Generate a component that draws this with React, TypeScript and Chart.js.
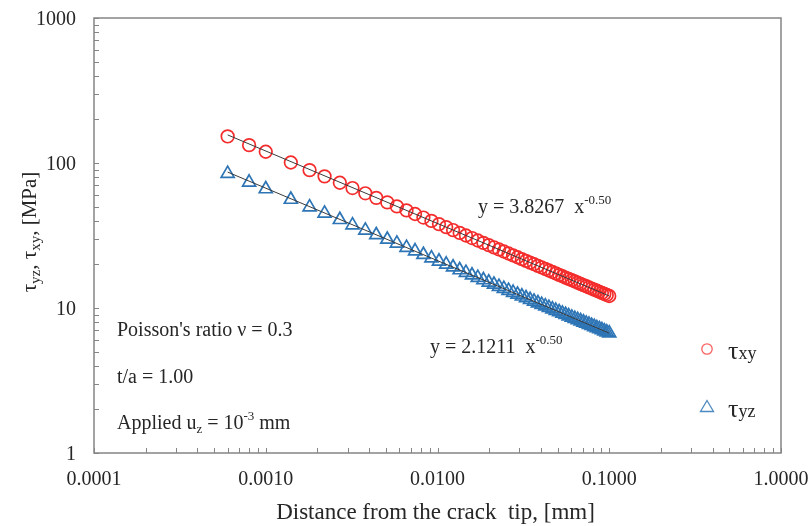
import { useEffect, useRef } from 'react';
import { Chart, registerables } from 'chart.js';

Chart.register(...registerables);

// ---- data ----
const DISTANCE = [
  0.0006, 0.0008, 0.001, 0.0014, 0.0018, 0.0022, 0.0027, 0.0032, 0.0038, 0.0044,
  0.0051, 0.0058, 0.0066, 0.0074, 0.00828, 0.00922, 0.0102, 0.01124, 0.01232, 0.01346,
  0.01464, 0.01588, 0.01716, 0.0185, 0.01988, 0.02132, 0.0228, 0.02434, 0.02592, 0.02756,
  0.02924, 0.03098, 0.03276, 0.0346, 0.03648, 0.03842, 0.0404, 0.04244, 0.04452, 0.04666,
  0.04884, 0.05108, 0.05336, 0.0557, 0.05808, 0.06052, 0.063, 0.06554, 0.06812, 0.07076,
  0.07344, 0.07618, 0.07896, 0.0818, 0.08468, 0.08762, 0.0906, 0.09364, 0.09672, 0.1,
];
const TAU_XY = [
  152.5, 132.8, 119.6, 100.8, 89.3, 80.9, 73.1, 67.2, 61.8, 57.5,
  53.5, 50.2, 47.1, 44.5, 42.05, 39.86, 37.89, 36.1, 34.47, 32.99,
  31.63, 30.37, 29.21, 28.14, 27.14, 26.21, 25.34, 24.53, 23.77, 23.05,
  22.38, 21.74, 21.14, 20.57, 20.04, 19.52, 19.04, 18.58, 18.14, 17.72,
  17.32, 16.93, 16.57, 16.21, 15.88, 15.56, 15.25, 14.95, 14.66, 14.39,
  14.12, 13.86, 13.62, 13.38, 13.15, 12.93, 12.71, 12.51, 12.3, 12.1,
];
const TAU_YZ = [
  84.5, 73.6, 66.2, 56.0, 49.6, 44.9, 40.6, 37.3, 34.3, 31.9,
  29.7, 27.9, 26.1, 24.7, 23.31, 22.09, 21.0, 20.01, 19.11, 18.29,
  17.53, 16.83, 16.19, 15.6, 15.04, 14.53, 14.05, 13.6, 13.17, 12.78,
  12.4, 12.05, 11.72, 11.4, 11.11, 10.82, 10.55, 10.3, 10.05, 9.82,
  9.6, 9.39, 9.18, 8.99, 8.8, 8.62, 8.45, 8.29, 8.13, 7.97,
  7.83, 7.69, 7.55, 7.42, 7.29, 7.17, 7.05, 6.93, 6.82, 6.71,
];
const FIT_XY_COEF = 3.8267;
const FIT_YZ_COEF = 2.1211;
const FIT_EXP = -0.5;
const X_TICKS = [0.0001, 0.001, 0.01, 0.1, 1];
const X_TICK_LABELS = ['0.0001', '0.0010', '0.0100', '0.1000', '1.0000'];
const Y_TICKS = [1, 10, 100, 1000];
const Y_TICK_LABELS = ['1', '10', '100', '1000'];

// ---- styles ----
const FONT = '"Liberation Serif", "Times New Roman", serif';
const TEXT = '#262626';
const RED = '#f42c2c';
const BLUE = '#2e75b6';
const FRAME = '#858585';

type Part = { t: string; size: number; dy?: number };

function rich(ctx: CanvasRenderingContext2D, x: number, y: number, parts: Part[], align: 'left' | 'center' | 'right' = 'left') {
  let total = 0;
  for (const p of parts) {
    ctx.font = `${p.size}px ${FONT}`;
    total += ctx.measureText(p.t).width;
  }
  let cx = align === 'center' ? x - total / 2 : align === 'right' ? x - total : x;
  ctx.textAlign = 'left';
  ctx.textBaseline = 'alphabetic';
  for (const p of parts) {
    ctx.font = `${p.size}px ${FONT}`;
    ctx.fillText(p.t, cx, y + (p.dy || 0));
    cx += ctx.measureText(p.t).width;
  }
}

const decorPlugin = {
  id: 'decor',
  beforeDatasetsDraw(chart: any) {
    const { ctx, chartArea: a, scales } = chart;
    const xs = scales.x;
    const ys = scales.y;
    ctx.save();
    ctx.strokeStyle = FRAME;
    ctx.lineWidth = 1.5;
    ctx.strokeRect(a.left, a.top, a.right - a.left, a.bottom - a.top);
    ctx.lineWidth = 1;
    ctx.beginPath();
    for (let d = 0; d < X_TICKS.length; d++) {
      for (let k = 1; k <= 9; k++) {
        const v = X_TICKS[d] * k;
        if (v > X_TICKS[X_TICKS.length - 1] * 1.0001) break;
        const px = Math.round(xs.getPixelForValue(v)) + 0.5;
        ctx.moveTo(px, a.bottom);
        ctx.lineTo(px, a.bottom - 5);
      }
    }
    for (let d = 0; d < Y_TICKS.length; d++) {
      for (let k = 1; k <= 9; k++) {
        const v = Y_TICKS[d] * k;
        if (v > Y_TICKS[Y_TICKS.length - 1] * 1.0001) break;
        const py = Math.round(ys.getPixelForValue(v)) + 0.5;
        ctx.moveTo(a.left, py);
        ctx.lineTo(a.left + 5, py);
      }
    }
    ctx.stroke();

    // tick labels
    ctx.fillStyle = TEXT;
    ctx.font = `20px ${FONT}`;
    ctx.textAlign = 'center';
    ctx.textBaseline = 'alphabetic';
    X_TICKS.forEach((v, i) => {
      ctx.fillText(X_TICK_LABELS[i], xs.getPixelForValue(v), a.bottom + 32);
    });
    ctx.textAlign = 'right';
    Y_TICKS.forEach((v, i) => {
      ctx.fillText(Y_TICK_LABELS[i], a.left - 18, ys.getPixelForValue(v) + 7);
    });
    ctx.restore();
  },
  afterDraw(chart: any) {
    const { ctx, chartArea: a } = chart;
    ctx.save();
    ctx.fillStyle = TEXT;

    // x title
    rich(ctx, (a.left + a.right) / 2 - 2, 519, [{ t: 'Distance from the crack  tip, [mm]', size: 23 }], 'center');

    // y title (rotated)
    ctx.save();
    ctx.translate(36, 232);
    ctx.rotate(-Math.PI / 2);
    rich(ctx, 0, 0, [
      { t: 'τ', size: 21 },
      { t: 'yz', size: 15, dy: 4 },
      { t: ', τ', size: 21 },
      { t: 'xy', size: 15, dy: 4 },
      { t: ', [MPa]', size: 21 },
    ], 'center');
    ctx.restore();

    // equations
    rich(ctx, 478, 212.5, [
      { t: 'y = 3.8267  x', size: 20 },
      { t: '-0.50', size: 13, dy: -9 },
    ]);
    rich(ctx, 430, 353, [
      { t: 'y = 2.1211  x', size: 20 },
      { t: '-0.50', size: 13, dy: -9 },
    ]);

    // notes
    rich(ctx, 117, 336, [{ t: "Poisson's ratio ν = 0.3", size: 20 }]);
    rich(ctx, 117, 382.5, [{ t: 't/a = 1.00', size: 20 }]);
    rich(ctx, 117, 429, [
      { t: 'Applied u', size: 20 },
      { t: 'z', size: 13, dy: 4 },
      { t: ' = 10', size: 20 },
      { t: '-3', size: 13, dy: -9 },
      { t: ' mm', size: 20 },
    ]);

    // legend
    ctx.lineWidth = 1.3;
    ctx.strokeStyle = 'rgba(244,44,44,0.75)';
    ctx.beginPath();
    ctx.arc(707, 349, 5.2, 0, Math.PI * 2);
    ctx.stroke();
    ctx.strokeStyle = 'rgba(46,117,182,0.85)';
    ctx.beginPath();
    ctx.moveTo(707, 400.5);
    ctx.lineTo(713.5, 411.5);
    ctx.lineTo(700.5, 411.5);
    ctx.closePath();
    ctx.stroke();
    ctx.fillStyle = TEXT;
    rich(ctx, 728, 359, [{ t: 'τ', size: 26 }, { t: 'xy', size: 18 }]);
    rich(ctx, 728, 417, [{ t: 'τ', size: 26 }, { t: 'yz', size: 18 }]);
    ctx.restore();
  },
};

export default function App() {
  const ref = useRef<HTMLCanvasElement | null>(null);

  useEffect(() => {
    if (!ref.current) return;
    const fitLine = (coef: number) => {
      const x0 = DISTANCE[0];
      const x1 = DISTANCE[DISTANCE.length - 1];
      return [
        { x: x0, y: coef * Math.pow(x0, FIT_EXP) },
        { x: x1, y: coef * Math.pow(x1, FIT_EXP) },
      ];
    };
    const chart = new Chart(ref.current, {
      type: 'scatter',
      data: {
        datasets: [
          {
            label: 'τxy',
            data: DISTANCE.map((x, i) => ({ x, y: TAU_XY[i] })),
            pointStyle: 'circle',
            pointRadius: 6.3,
            pointBorderWidth: 1.7,
            pointBorderColor: RED,
            pointBackgroundColor: 'rgba(0,0,0,0)',
            showLine: false,
            order: 2,
          },
          {
            label: 'τyz',
            data: DISTANCE.map((x, i) => ({ x, y: TAU_YZ[i] })),
            pointStyle: 'triangle',
            pointRadius: 7.5,
            pointBorderWidth: 1.7,
            pointBorderColor: BLUE,
            pointBackgroundColor: 'rgba(0,0,0,0)',
            showLine: false,
            order: 2,
          },
          {
            label: 'fit xy',
            data: fitLine(FIT_XY_COEF),
            showLine: true,
            borderColor: '#3a3a3a',
            borderWidth: 1,
            pointRadius: 0,
            order: 1,
          },
          {
            label: 'fit yz',
            data: fitLine(FIT_YZ_COEF),
            showLine: true,
            borderColor: '#3a3a3a',
            borderWidth: 1,
            pointRadius: 0,
            order: 1,
          },
        ],
      },
      options: {
        responsive: false,
        animation: false,
        devicePixelRatio: 1,
        layout: { padding: { top: 18, right: 29, left: 0, bottom: 0 } },
        plugins: { legend: { display: false }, tooltip: { enabled: false } },
        scales: {
          x: {
            type: 'logarithmic',
            min: 0.0001,
            max: 1,
            grid: { display: false, drawTicks: false },
            border: { display: false },
            ticks: { display: false },
            afterFit: (s: any) => {
              s.height = 73;
            },
          },
          y: {
            type: 'logarithmic',
            min: 1,
            max: 1000,
            grid: { display: false, drawTicks: false },
            border: { display: false },
            ticks: { display: false },
            afterFit: (s: any) => {
              s.width = 94;
            },
          },
        },
      } as any,
      plugins: [decorPlugin],
    });
    return () => chart.destroy();
  }, []);

  return (
    <div style={{ position: 'absolute', left: 0, top: 0, width: 810, height: 526, background: '#fff' }}>
      <canvas ref={ref} width={810} height={526} style={{ display: 'block' }} />
    </div>
  );
}
